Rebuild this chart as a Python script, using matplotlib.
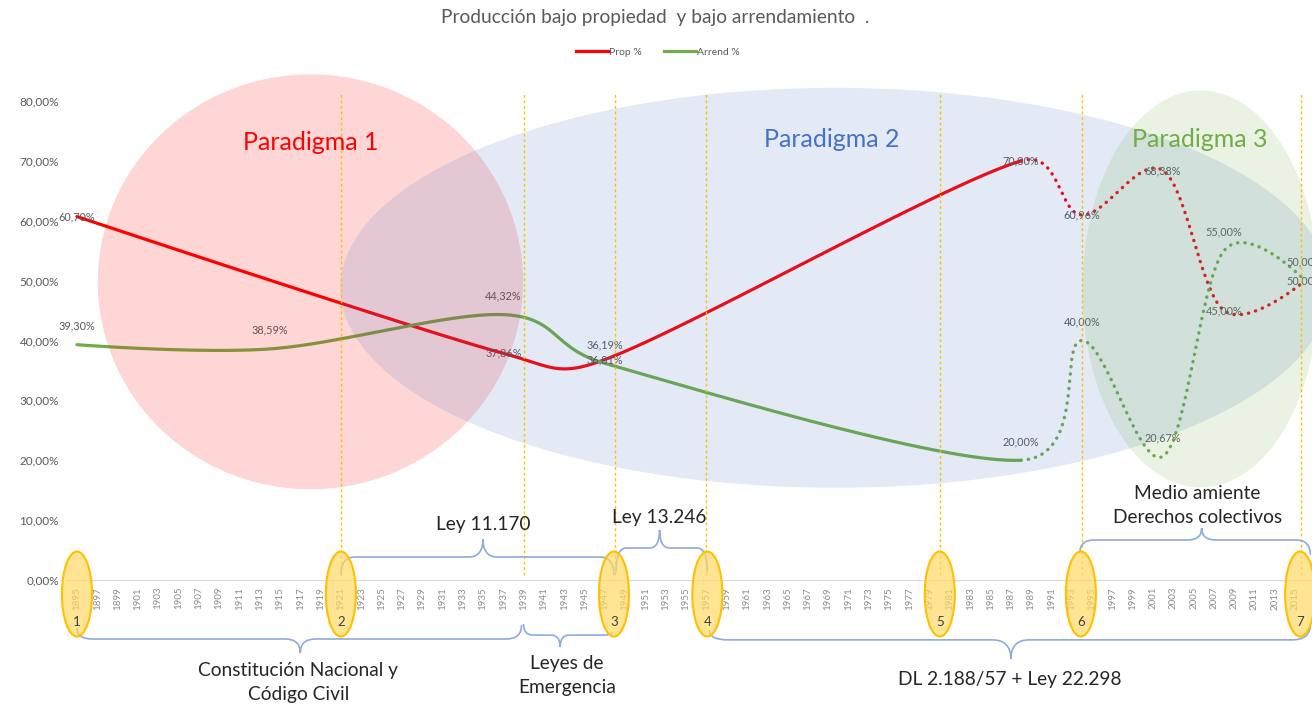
import numpy as np
import matplotlib
matplotlib.use("Agg")
import matplotlib.pyplot as plt
from matplotlib.patches import Ellipse, PathPatch
from matplotlib.path import Path
from matplotlib.lines import Line2D
from matplotlib.ticker import FuncFormatter

plt.rcParams['font.family'] = ['Lato', 'DejaVu Sans']

# ---------------------------------------------------------------- data
prop_years = [1895, 1937, 1947, 1988, 1994, 2002, 2008, 2016]
prop_vals = [60.70, 37.86, 36.81, 70.00, 60.96, 68.38, 45.00, 50.00]
arrend_years = [1895, 1914, 1937, 1947, 1988, 1994, 2002, 2008, 2016]
arrend_vals = [39.30, 38.59, 44.32, 36.19, 20.00, 40.00, 20.67, 55.00, 50.00]
last_solid = 1988                      # after this year the series is dotted

tick_years = list(range(1895, 2016, 2))
y_ticks = [0, 10, 20, 30, 40, 50, 60, 70, 80]

cut_years = [1921, 1939, 1948, 1957, 1980, 1994, 2015.6]          # dashed lines
hito_years = [1895, 1921, 1947.9, 1957.1, 1980, 1993.9, 2015.5]   # numbered ovals
hito_nums = ['1', '2', '3', '4', '5', '6', '7']

RED = '#FF0000'
GREEN = '#70AD47'
BLUE = '#4472C4'
BRACE = '#8FAADC'
GOLD = '#FFC000'


def pct(v):
    return f'{v:.2f}%'.replace('.', ',')


def smooth(ax, xs, ys, n=40):
    # excel-like smoothed line (catmull-rom 1/6, control length capped), display space
    P = ax.transData.transform(np.column_stack([xs, ys]))
    m = len(P)
    cin = P.copy()
    cout = P.copy()
    for i in range(1, m - 1):
        tan = (P[i + 1] - P[i - 1]) / 6.0
        L = np.hypot(*tan)
        d_prev = np.hypot(*(P[i] - P[i - 1]))
        d_next = np.hypot(*(P[i + 1] - P[i]))
        cin[i] = P[i] - tan * min(1.0, 0.5 * d_prev / L)
        cout[i] = P[i] + tan * min(1.0, 0.5 * d_next / L)
    s = np.linspace(0, 1, n)[:, None]
    inv = ax.transData.inverted()
    segs = []
    for i in range(m - 1):
        a, b, c, d = P[i], cout[i], cin[i + 1], P[i + 1]
        pts = (1 - s) ** 3 * a + 3 * (1 - s) ** 2 * s * b + 3 * (1 - s) * s ** 2 * c + s ** 3 * d
        segs.append(inv.transform(pts))
    return segs


def draw_series(ax, xs, ys, color):
    segs = smooth(ax, xs, ys)
    solid = [sg for i, sg in enumerate(segs) if xs[i + 1] <= last_solid]
    dotted = [sg for i, sg in enumerate(segs) if xs[i + 1] > last_solid]
    sol = np.vstack(solid)
    dot = np.vstack(dotted)
    ax.plot(sol[:, 0], sol[:, 1], color=color, lw=2.3, solid_capstyle='round', zorder=2)
    ax.plot(dot[:, 0], dot[:, 1], color=color, lw=2.4, linestyle=(0, (0.1, 2.1)),
            dash_capstyle='round', zorder=2)


def brace(ax, x0, y0, x1, y1, y, xm, ytip, r):
    verts = [(x0, y0), (x0, y), (x0 + r, y),
             (xm - r, y), (xm, y), (xm, ytip),
             (xm, y), (xm + r, y),
             (x1 - r, y), (x1, y), (x1, y1)]
    codes = [Path.MOVETO, Path.CURVE3, Path.CURVE3,
             Path.LINETO, Path.CURVE3, Path.CURVE3,
             Path.CURVE3, Path.CURVE3,
             Path.LINETO, Path.CURVE3, Path.CURVE3]
    ax.add_patch(PathPatch(Path(verts, codes), fill=False, ec=BRACE, lw=1.2,
                           clip_on=False, zorder=5))


fig = plt.figure(figsize=(13.12, 7.09), dpi=100)
ax = fig.add_axes([66 / 1312, 129 / 709, 1246 / 1312, 479 / 709])
ax.set_xlim(1893.92, 2016.67)
ax.set_ylim(0, 80)

# ---------------------------------------------------------------- series
draw_series(ax, prop_years, prop_vals, RED)
draw_series(ax, arrend_years, arrend_vals, GREEN)

for x, v in zip(prop_years, prop_vals):
    ax.annotate(pct(v), (x, v), ha='center', va='center', fontsize=7.8,
                color='#595959', zorder=3, annotation_clip=False)
for x, v in zip(arrend_years, arrend_vals):
    ax.annotate(pct(v), (x, v), xytext=(0, 13.5), textcoords='offset points',
                ha='center', va='center', fontsize=7.8, color='#595959', zorder=3,
                annotation_clip=False)

# ---------------------------------------------------------------- axes look
for s in ['left', 'right', 'top']:
    ax.spines[s].set_visible(False)
ax.spines['bottom'].set_color('#D9D9D9')
ax.spines['bottom'].set_linewidth(0.8)
ax.set_yticks(y_ticks)
ax.yaxis.set_major_formatter(FuncFormatter(lambda v, _: pct(v)))
ax.set_xticks(tick_years)
ax.set_xticklabels([str(y) for y in tick_years], rotation=90)
ax.tick_params(axis='y', length=0, labelsize=8.5, labelcolor='#595959', pad=5)
ax.tick_params(axis='x', length=0, labelsize=7, labelcolor='#8C8C8C', pad=5)

# ---------------------------------------------------------------- paradigm shapes
ax.add_patch(Ellipse((1918.0, 49.8), 41.9, 69.3, fc=RED, alpha=0.16, lw=0,
                     clip_on=False, zorder=4))
ax.add_patch(Ellipse((1969.7, 48.8), 97.5, 66.8, fc=BLUE, alpha=0.15, lw=0,
                     clip_on=False, zorder=4))
ax.add_patch(Ellipse((2005.7, 48.6), 23.3, 66.3, fc=GREEN, alpha=0.15, lw=0,
                     clip_on=False, zorder=4))
ax.text(1918.0, 73.0, 'Paradigma 1', color=RED, fontsize=18, ha='center', va='center', zorder=6)
ax.text(1969.4, 73.5, 'Paradigma 2', color=BLUE, fontsize=18, ha='center', va='center', zorder=6)
ax.text(2005.6, 73.5, 'Paradigma 3', color=GREEN, fontsize=18, ha='center', va='center', zorder=6)

# ---------------------------------------------------------------- milestones
for x in cut_years:
    ax.plot([x, x], [0.8, 81.5], color=GOLD, lw=1, linestyle=(0, (2, 2)),
            clip_on=False, zorder=5)
for x, n in zip(hito_years, hito_nums):
    ax.add_patch(Ellipse((x, -2.34), 2.96, 14.2, fc='#FFD966', alpha=0.7, ec='none',
                         clip_on=False, zorder=6))
    ax.add_patch(Ellipse((x, -2.34), 2.96, 14.2, fc='none', ec=GOLD, lw=1.5,
                         clip_on=False, zorder=6))
    ax.text(x, -7.0, n, ha='center', va='center', fontsize=9.5, color='#404040',
            zorder=7, clip_on=False)

# braces below the axis
brace(ax, 1895.0, -8.0, 1938.8, -7.5, -9.85, 1917.0, -12.2, 1.5)
brace(ax, 1939.0, -7.35, 1947.7, -8.7, -9.2, 1942.6, -11.2, 0.9)
brace(ax, 1957.3, -8.35, 2016.5, -7.5, -10.0, 1987.0, -13.2, 1.8)
# braces above the axis
brace(ax, 1921.0, 0.8, 1947.9, 0.8, 3.84, 1935.0, 6.85, 1.4)
brace(ax, 1948.1, 1.34, 1957.1, 1.34, 5.34, 1952.4, 8.35, 1.0)
brace(ax, 1993.8, 4.5, 2016.5, 4.2, 6.68, 2005.8, 8.68, 1.4)

txt = dict(ha='center', va='center', fontsize=13.8, color='#262626', clip_on=False,
           zorder=7, linespacing=1.5)
ax.text(1935.0, 9.2, 'Ley 11.170', **txt)
ax.text(1952.4, 10.5, 'Ley 13.246', **txt)
ax.text(2005.4, 12.4, 'Medio amiente\nDerechos colectivos', **txt)
ax.text(1916.8, -17.2, 'Constitución Nacional y\nCódigo Civil', **txt)
ax.text(1943.3, -15.9, 'Leyes de\nEmergencia', **txt)
ax.text(1986.9, -16.7, 'DL 2.188/57 + Ley 22.298', **txt)

# ---------------------------------------------------------------- title & legend
fig.text(655 / 1312, 1 - 17 / 709, 'Producción bajo propiedad  y bajo arrendamiento  .',
         ha='center', va='center', fontsize=13.8, color='#595959')
handles = [Line2D([], [], color=RED, lw=2.3), Line2D([], [], color=GREEN, lw=2.3)]
fig.legend(handles, ['Prop %', 'Arrend %'], loc='center',
           bbox_to_anchor=(658 / 1312, 1 - 52 / 709), ncol=2, frameon=False,
           fontsize=7.5, handlelength=3.0, handletextpad=0.1, columnspacing=2.2,
           labelcolor='#595959')

fig.savefig('out.png', dpi=100)
